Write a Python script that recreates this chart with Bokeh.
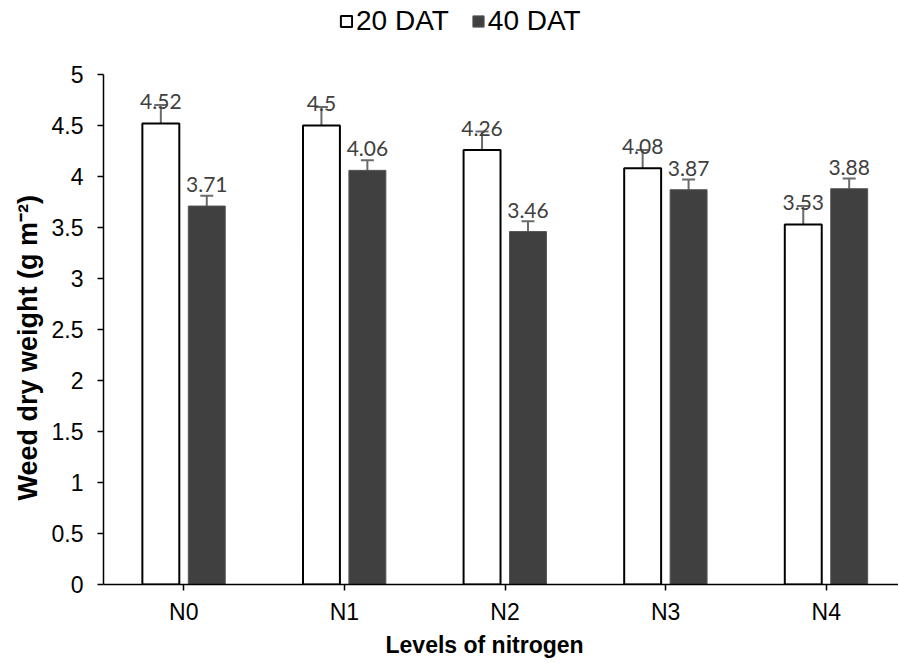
from bokeh.plotting import figure
from bokeh.models import (ColumnDataSource, Whisker, TeeHead, Legend, LegendItem,
                          FixedTicker, Range1d, LabelSet, Title)
from bokeh.core.properties import value
from bokeh.embed import file_html
from bokeh.resources import INLINE

categories = ["N0", "N1", "N2", "N3", "N4"]
dat20 = [4.52, 4.50, 4.26, 4.08, 3.53]
dat40 = [3.71, 4.06, 3.46, 3.87, 3.88]
err20 = [0.18, 0.18, 0.18, 0.18, 0.18]
err40 = [0.10, 0.10, 0.10, 0.10, 0.10]
series_names = ["20 DAT", "40 DAT"]
y_ticks = [0, 0.5, 1, 1.5, 2, 2.5, 3, 3.5, 4, 4.5, 5]
x_title = "Levels of nitrogen"
y_title = "Weed dry weight (g m\u207b\u00b2)"

OFF = 0.143
BW = 0.23

idx = list(range(len(categories)))

def make_src(vals, errs, shift):
    return ColumnDataSource(dict(
        x=[i + shift for i in idx],
        top=vals,
        upper=[v + e for v, e in zip(vals, errs)],
        lower=[v - e for v, e in zip(vals, errs)],
        lab=[f"{v:g}" for v in vals],
    ))

s20 = make_src(dat20, err20, -OFF)
s40 = make_src(dat40, err40, OFF)

# frame extends above the axis top (5) to leave room for the legend
p = figure(width=898, height=660, output_backend="svg", toolbar_location=None,
           x_range=Range1d(-0.5, 4.45), y_range=Range1d(0, 5.725),
           min_border_left=103, min_border_right=0, min_border_top=0,
           min_border_bottom=76)
p.outline_line_color = None
p.xgrid.visible = False
p.ygrid.visible = False
p.background_fill_color = "white"

r20 = p.vbar(x="x", top="top", width=BW, bottom=0, source=s20,
             fill_color="white", line_color="black", line_width=2)
r40 = p.vbar(x="x", top="top", width=BW, bottom=0, source=s40,
             fill_color="#404040", line_color="#555555", line_width=1)

EB = "#6b6b6b"
for s in (s20, s40):
    w = Whisker(base="x", upper="upper", lower="lower", source=s,
                line_color=EB, line_width=2,
                upper_head=TeeHead(size=13, line_color=EB, line_width=2),
                lower_head=TeeHead(size=13, line_color=EB, line_width=2))
    p.add_layout(w)
    lbl = LabelSet(x="x", y="top", text="lab", source=s, text_align="center",
                   text_baseline="bottom", y_offset=14,
                   text_font=value("Lato"), text_font_size=value("21px"),
                   text_color="#404040")
    p.add_layout(lbl)

# axes
p.xaxis.ticker = FixedTicker(ticks=idx)
p.xaxis.major_label_overrides = {i: c for i, c in zip(idx, categories)}
p.yaxis.ticker = FixedTicker(ticks=y_ticks)
p.yaxis.major_label_overrides = {t: f"{t:g}" for t in y_ticks}
p.yaxis.bounds = (0, 5)

for ax in (p.xaxis[0], p.yaxis[0]):
    ax.axis_line_color = "black"
    ax.axis_line_width = 1.5
    ax.major_tick_line_color = "black"
    ax.major_tick_line_width = 1.5
    ax.minor_tick_line_color = None
    ax.major_tick_in = 0
    ax.major_tick_out = 6
    ax.major_label_text_font = "Liberation Sans"
    ax.major_label_text_font_size = "23px"
    ax.major_label_text_color = "black"

p.xaxis.major_label_standoff = 8
p.yaxis.major_label_standoff = 14

# axis titles as Titles so they can be positioned like the original
p.add_layout(Title(text=y_title, align="left", offset=84, standoff=12,
                   text_font="Liberation Sans", text_font_style="bold",
                   text_font_size="27px", text_color="black"), "left")
p.add_layout(Title(text=x_title, align="left", offset=282, standoff=4,
                   text_font="Liberation Sans", text_font_style="bold",
                   text_font_size="23px", text_color="black"), "below")

legend = Legend(items=[LegendItem(label=series_names[0], renderers=[r20]),
                       LegendItem(label=series_names[1], renderers=[r40])],
                orientation="horizontal", location=(236, 547),
                glyph_width=14, glyph_height=14, label_standoff=3, spacing=22,
                padding=0, margin=0, border_line_color=None,
                background_fill_alpha=0,
                label_text_font="Liberation Sans", label_text_font_size="28px",
                label_text_color="black")
p.add_layout(legend, "center")

open("out.html", "w").write(file_html(p, INLINE))
